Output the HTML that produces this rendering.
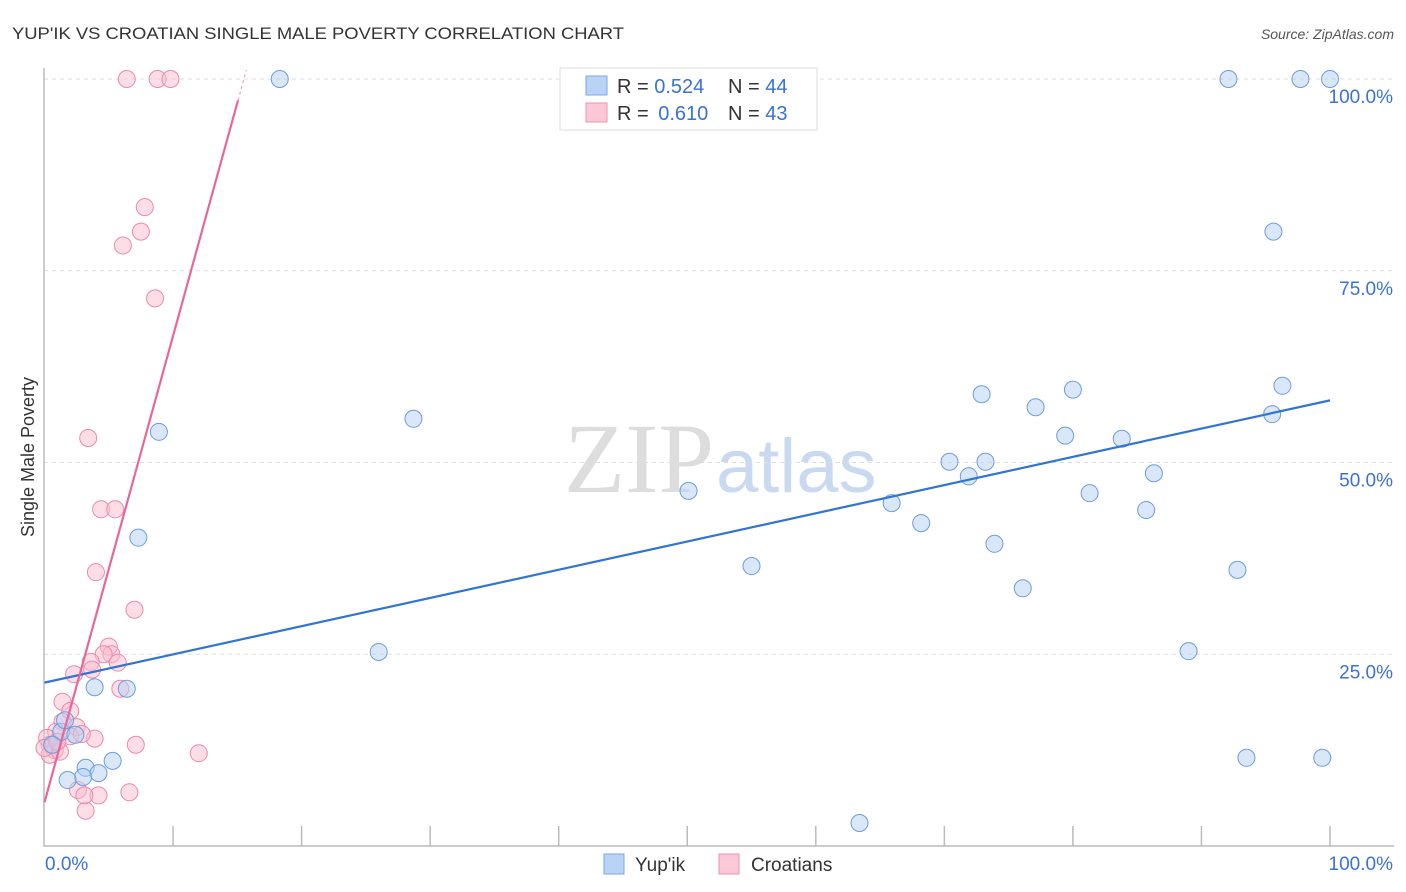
<!DOCTYPE html>
<html><head><meta charset="utf-8"><style>
body{margin:0;background:#fff;font-family:"Liberation Sans",sans-serif}
svg{display:block}
</style></head><body>
<svg id="chart" width="1406" height="892">
<text x="12" y="39" font-size="17" fill="#333" textLength="612" lengthAdjust="spacingAndGlyphs">YUP'IK VS CROATIAN SINGLE MALE POVERTY CORRELATION CHART</text>
<text x="1394" y="39" font-size="14" fill="#555" font-style="italic" text-anchor="end">Source: ZipAtlas.com</text>
<text x="714" y="492" font-size="100" font-family="Liberation Serif" fill="#ddd" text-anchor="end">ZIP</text>
<text x="716" y="492" font-size="76" fill="#c9daf0">atlas</text>
<text transform="translate(34,457) rotate(-90)" font-size="18" fill="#333" text-anchor="middle">Single Male Poverty</text>
<g id="grid"></g><g id="axes"></g><g id="pts"></g><g id="lines"></g>
<g>
<rect x="560" y="68" width="257" height="62" fill="#fff" stroke="#ddd"/>
<rect x="586" y="76" width="21" height="19" fill="#b8d3f5" stroke="#7aa7e6"/>
<rect x="586" y="103" width="21" height="19" fill="#fcc8d8" stroke="#ee92b0"/>
<text x="617" y="93" font-size="20" fill="#333">R = <tspan fill="#3a72d6">0.524</tspan><tspan x="728">N = </tspan><tspan fill="#3a72d6">44</tspan></text>
<text x="617" y="120" font-size="20" fill="#333">R = <tspan fill="#3a72d6" dx="4">0.610</tspan><tspan x="728">N = </tspan><tspan fill="#3a72d6">43</tspan></text>
</g>
<g>
<rect x="604" y="854" width="20" height="20" fill="#b8d3f5" stroke="#7aa7e6"/>
<text x="635" y="871" font-size="19" fill="#333">Yup'ik</text>
<rect x="719" y="854" width="20" height="20" fill="#fcc8d8" stroke="#ee92b0"/>
<text x="751" y="871" font-size="19" fill="#333">Croatians</text>
</g>
</svg>
<script>
const yupikX=[18.3,92.1,97.7,100,95.6,96.3,95.5,72.9,80.0,77.1,79.4,83.8,70.4,73.2,71.9,86.3,81.3,85.7,65.9,68.2,73.9,76.1,92.8,89.0,93.5,99.4,63.4,50.1,55.0,28.7,8.9,7.3,26.0,3.9,6.4,5.3,3.2,4.2,3.0,1.8,1.3,0.6,2.4,1.6];
const yupikY=[100,100,100,100,80.1,60.0,56.3,58.9,59.5,57.2,53.5,53.1,50.1,50.1,48.2,48.6,46.0,43.8,44.7,42.1,39.4,33.6,36.0,25.4,11.5,11.5,3.0,46.3,36.5,55.7,54.0,40.2,25.3,20.7,20.5,11.1,10.2,9.5,9.0,8.6,14.9,13.2,14.5,16.4];
const croX=[6.4,8.8,9.8,7.8,7.5,6.1,8.6,3.4,4.4,5.5,4.0,7.0,5.0,5.2,4.6,3.6,5.7,2.3,3.7,5.9,1.4,2.0,1.4,2.5,0.9,3.9,2.0,2.9,7.1,12.0,0.4,0.8,0.4,0.2,0.7,6.6,4.2,2.6,3.2,3.1,1.2,0,1.0];
const croY=[100,100,100,83.3,80.1,78.3,71.4,53.2,43.9,43.9,35.7,30.8,26.0,25.0,25.0,24.0,23.9,22.4,23.0,20.5,18.8,17.6,16.2,15.5,14.9,14.0,14.3,14.6,13.2,12.1,13.2,12.5,11.9,14.1,13.2,7.0,6.6,7.3,4.6,6.6,12.3,12.8,13.6];
const yTicks=[25,50,75,100];
const yTickLabels=["25.0%","50.0%","75.0%","100.0%"];
const xTicks=[10,20,30,40,50,60,70,80,90,100];
const yupikTrend=[21.3,58.1];
const croTrend=[5.7,6.08];
const NS="http://www.w3.org/2000/svg";
const sx=v=>44.5+v*12.855, sy=v=>846-v*7.67;
function mk(tag,attrs,parent){const e=document.createElementNS(NS,tag);for(const k in attrs)e.setAttribute(k,attrs[k]);document.getElementById(parent).appendChild(e);return e;}
yTicks.forEach((t,i)=>{
 const g=mk('line',{x1:44,x2:1394,y1:sy(t),y2:sy(t),stroke:'#ddd','stroke-dasharray':'4,4'},'grid');
 
 
 const l=mk('text',{x:1393,y:sy(t)+24,'font-size':19,fill:'#3a72d6','text-anchor':'end'},'axes');
 l.textContent=yTickLabels[i];
 
 
});
const ax=mk('path',{d:`M44 68 V846 H1394`,stroke:'#bbb',fill:'none','stroke-width':1.5},'axes');


xTicks.forEach(t=>{
 const k=mk('line',{x1:sx(t),x2:sx(t),y1:826,y2:846,stroke:'#bbb','stroke-width':1.5},'axes');
 
 
});
const x0=mk('text',{x:45,y:870,'font-size':19,fill:'#3a72d6'},'axes');x0.textContent='0.0%';


const x1=mk('text',{x:1393,y:870,'font-size':19,fill:'#3a72d6','text-anchor':'end'},'axes');x1.textContent='100.0%';


function pts(X,Y,fill,stroke,name){X.forEach((x,i)=>{
 const c=mk('circle',{cx:sx(x),cy:sy(Y[i]),r:8.5,fill:fill,'fill-opacity':0.5,stroke:stroke,'stroke-width':1},'pts');
 
 
});}
pts(croX,croY,'#fbbdd0','#ea8aab','croatian-point');
pts(yupikX,yupikY,'#b3cff2','#6b9de0','yupik-point');
const bl=mk('line',{x1:sx(0),y1:sy(yupikTrend[0]),x2:sx(100),y2:sy(yupikTrend[1]),stroke:'#2f74d6','stroke-width':2.2},'lines');


const pe=15.05;
const pl=mk('line',{x1:sx(0),y1:sy(croTrend[0]),x2:sx(pe),y2:sy(croTrend[0]+croTrend[1]*pe),stroke:'#e8679a','stroke-width':2.2},'lines');


const pd=mk('line',{x1:sx(pe),y1:sy(croTrend[0]+croTrend[1]*pe),x2:sx(15.7),y2:sy(croTrend[0]+croTrend[1]*15.7),stroke:'#e8a0bb','stroke-width':1.2,'stroke-dasharray':'3,3'},'lines');


</script>
</body></html>
